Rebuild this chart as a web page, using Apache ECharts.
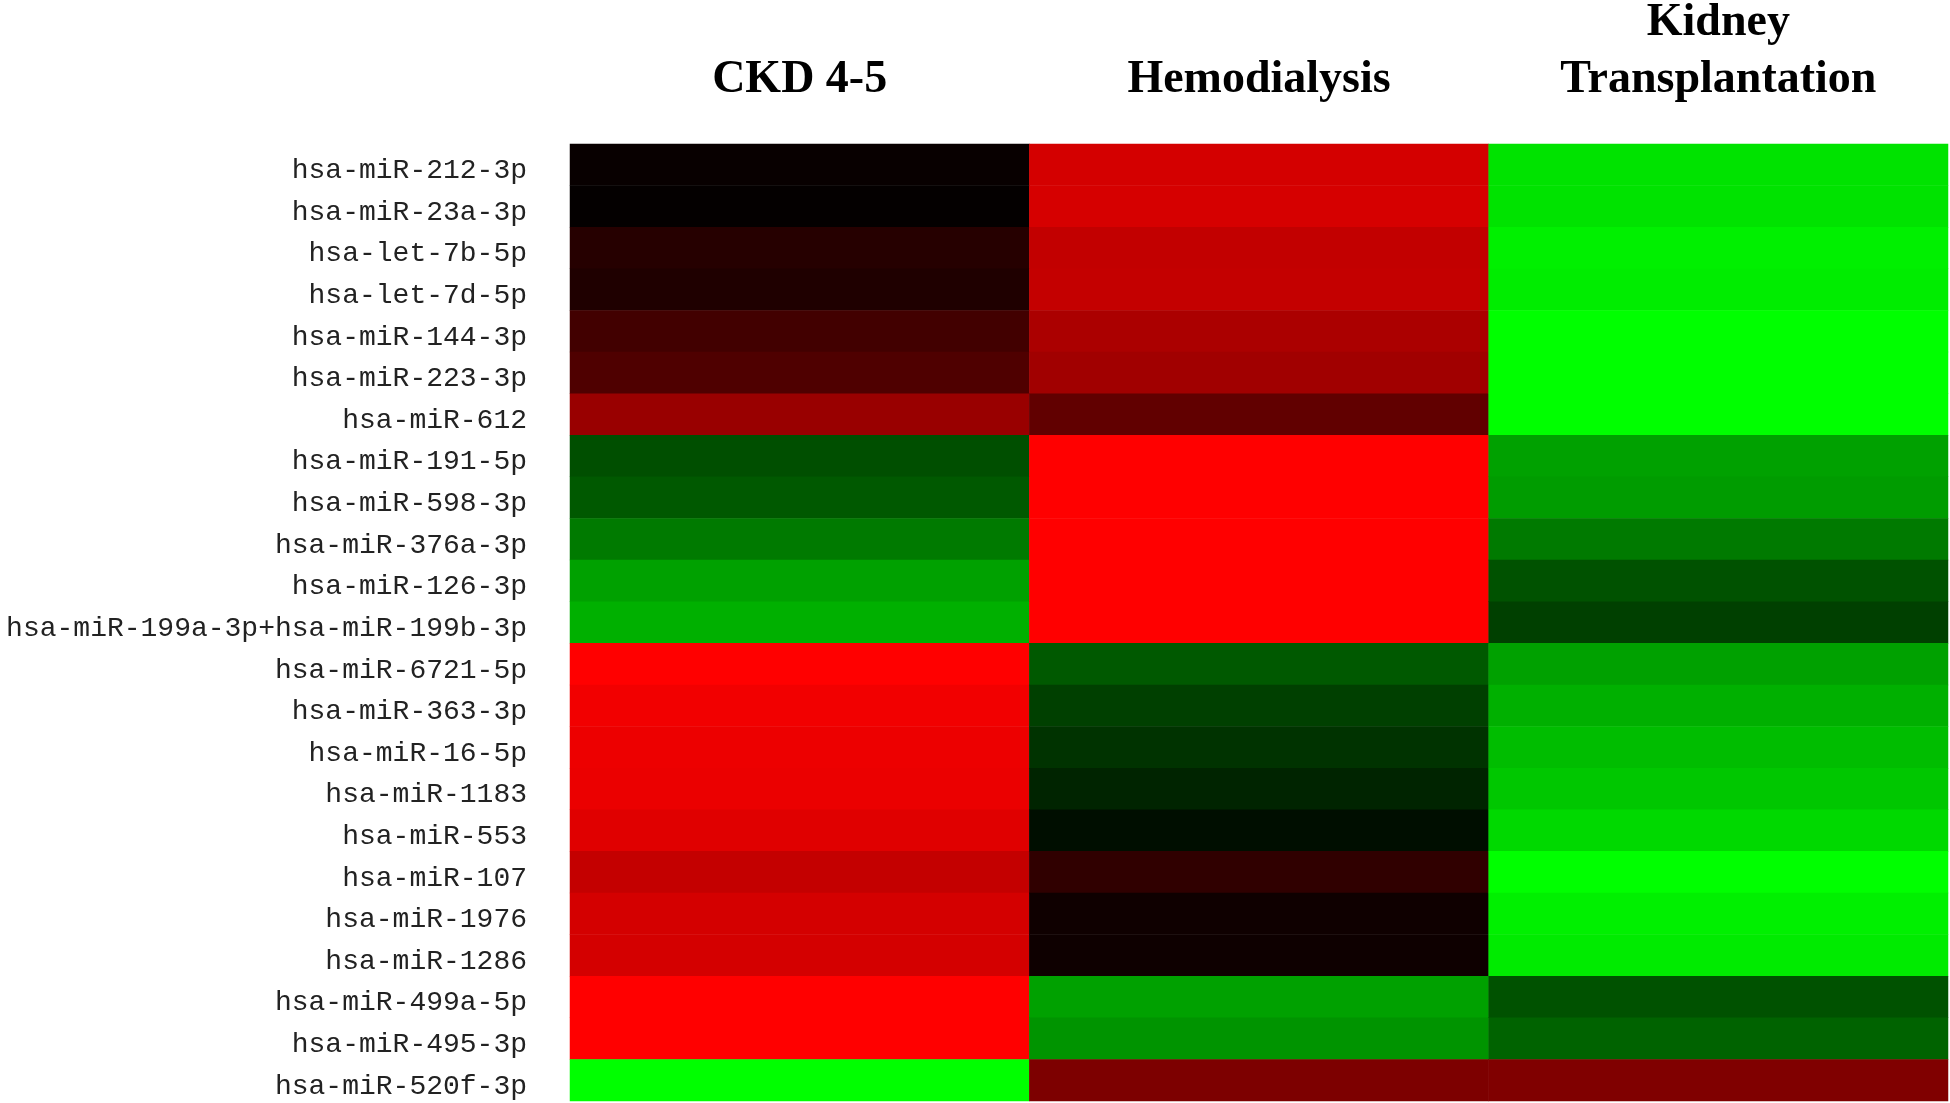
<!DOCTYPE html>
<html style="height: 100%">
    <head>
        <meta charset="utf-8">
    </head>
    <body style="height: 100%; margin: 0; background: #fff">
        <div id="container" style="height: 100%"></div>

        <script type="text/javascript" src="https://cdn.jsdelivr.net/npm/echarts@6/dist/echarts.min.js"></script>
        <script type="text/javascript">
var groups = ['CKD 4-5', 'Hemodialysis', 'Kidney\nTransplantation'];

var genes = [
    'hsa-miR-212-3p', 'hsa-miR-23a-3p', 'hsa-let-7b-5p', 'hsa-let-7d-5p',
    'hsa-miR-144-3p', 'hsa-miR-223-3p', 'hsa-miR-612', 'hsa-miR-191-5p',
    'hsa-miR-598-3p', 'hsa-miR-376a-3p', 'hsa-miR-126-3p',
    'hsa-miR-199a-3p+hsa-miR-199b-3p', 'hsa-miR-6721-5p', 'hsa-miR-363-3p',
    'hsa-miR-16-5p', 'hsa-miR-1183', 'hsa-miR-553', 'hsa-miR-107',
    'hsa-miR-1976', 'hsa-miR-1286', 'hsa-miR-499a-5p', 'hsa-miR-495-3p',
    'hsa-miR-520f-3p'
];

// relative expression, -1 = full green, 0 = black, 1 = full red
var ckd = [
    0.03, 0.016, 0.15, 0.12, 0.26, 0.31, 0.6, -0.31, -0.35, -0.48, -0.63, -0.69,
    1.0, 0.95, 0.93, 0.92, 0.88, 0.77, 0.83, 0.83, 1.0, 1.0, -1.0
];
var hemo = [
    0.83, 0.84, 0.76, 0.77, 0.67, 0.63, 0.38, 1.0, 1.0, 1.0, 1.0, 1.0,
    -0.35, -0.25, -0.2, -0.14, -0.055, 0.19, 0.06, 0.055, -0.63, -0.58, 0.49
];
var transpl = [
    -0.89, -0.89, -0.94, -0.93, -1.0, -1.0, -1.0, -0.63, -0.61, -0.48, -0.32, -0.25,
    -0.63, -0.69, -0.74, -0.78, -0.85, -1.0, -0.94, -0.92, -0.32, -0.39, 0.5
];

var columns = [ckd, hemo, transpl];
var data = [];
columns.forEach(function (col, x) {
    col.forEach(function (v, y) {
        data.push([x, y, v]);
    });
});

var dom = document.getElementById('container');
var myChart = echarts.init(dom);

var option = {
    animation: false,
    backgroundColor: '#ffffff',
    grid: {
        left: 570,
        right: 2,
        top: 144,
        bottom: 2,
        outerBoundsMode: 'none'
    },
    xAxis: {
        type: 'category',
        position: 'top',
        data: groups,
        axisLine: { show: false },
        axisTick: { show: false },
        splitLine: { show: false },
        axisLabel: {
            margin: 35,
            color: '#000',
            fontFamily: 'Liberation Serif',
            fontWeight: 'bold',
            fontSize: 46,
            lineHeight: 57,
            align: 'center'
        }
    },
    yAxis: {
        type: 'category',
        inverse: true,
        data: genes,
        axisLine: { show: false },
        axisTick: { show: false },
        splitLine: { show: false },
        axisLabel: {
            margin: 43,
            formatter: function (v) {
                return '{g|' + v + '}';
            },
            rich: {
                g: {
                    color: '#222',
                    fontFamily: 'Liberation Mono',
                    fontSize: 28,
                    padding: [12, 0, 0, 0]
                }
            }
        }
    },
    visualMap: {
        show: false,
        type: 'continuous',
        min: -1,
        max: 1,
        dimension: 2,
        inRange: {
            color: ['#00ff00', '#000000', '#ff0000']
        }
    },
    series: [{
        type: 'heatmap',
        data: data,
        itemStyle: { borderWidth: 0 },
        emphasis: { disabled: true }
    }]
};

myChart.setOption(option);
        </script>
    </body>
</html>
